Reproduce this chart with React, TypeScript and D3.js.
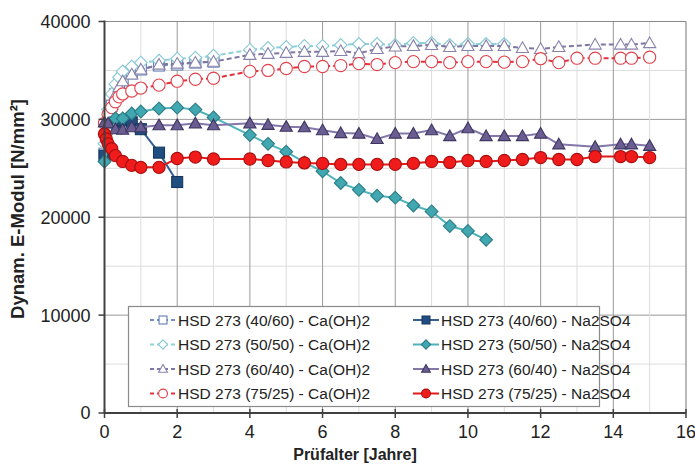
import React from "react";
import * as d3 from "d3";

// ---- data ----
const x4060Ca = [0, 0.1, 0.2, 0.3, 0.4, 0.5, 0.75, 1, 1.5, 2, 2.5, 3];
const y4060Ca = [26500, 29800, 31400, 32600, 33400, 34000, 34700, 35100, 35500, 35600, 35800, 35900];

const x5050Ca = [0, 0.1, 0.2, 0.3, 0.4, 0.5, 0.75, 1, 1.5, 2, 2.5, 3, 4, 4.5, 5, 5.5, 6, 6.5, 7, 7.5, 8, 8.5, 9, 9.5, 10, 10.5, 11];
const y5050Ca = [27500, 31000, 32600, 33600, 34300, 34900, 35400, 35800, 36000, 36200, 36300, 36500, 37100, 37300, 37400, 37500, 37500, 37600, 37700, 37700, 37600, 37800, 37800, 37600, 37700, 37700, 37700];

const x6040Ca = [0, 0.1, 0.2, 0.3, 0.4, 0.5, 0.75, 1, 1.5, 2, 2.5, 3, 4, 4.5, 5, 5.5, 6, 6.5, 7, 7.5, 8, 8.5, 9, 9.5, 10, 10.5, 11, 11.5, 12, 12.5, 13.5, 14.2, 14.5, 15];
const y6040Ca = [29000, 30300, 31500, 32500, 33300, 33900, 34600, 35100, 35600, 35700, 35800, 35900, 36600, 36700, 36800, 36900, 36900, 37000, 36750, 37200, 37450, 37500, 37600, 37400, 37500, 37500, 37500, 37300, 37200, 37400, 37650, 37650, 37650, 37800];

const x7525Ca = [0, 0.1, 0.2, 0.3, 0.4, 0.5, 0.75, 1, 1.5, 2, 2.5, 3, 4, 4.5, 5, 5.5, 6, 6.5, 7, 7.5, 8, 8.5, 9, 9.5, 10, 10.5, 11, 11.5, 12, 12.5, 13, 13.5, 14.2, 14.5, 15];
const y7525Ca = [29600, 30500, 31200, 31800, 32300, 32600, 32900, 33200, 33500, 33900, 34100, 34200, 34900, 35000, 35200, 35400, 35400, 35500, 35700, 35600, 35800, 35900, 35900, 35800, 35900, 35900, 35850, 35900, 36200, 35800, 36250, 36250, 36250, 36250, 36350];

const x4060Na = [0, 0.3, 0.5, 0.75, 1, 1.5, 2];
const y4060Na = [26300, 29700, 29900, 29700, 29000, 26600, 23600];

const x5050Na = [0, 0.3, 0.5, 0.75, 1, 1.5, 2, 2.5, 3, 4, 4.5, 5, 5.5, 6, 6.5, 7, 7.5, 8, 8.5, 9, 9.5, 10, 10.5];
const y5050Na = [25700, 30100, 30100, 30600, 30800, 31100, 31200, 31000, 30200, 28400, 27500, 26700, 25600, 24700, 23500, 22800, 22200, 22000, 21200, 20600, 19100, 18600, 17700];

const x6040Na = [0, 0.1, 0.3, 0.5, 0.75, 1, 1.5, 2, 2.5, 3, 4, 4.5, 5, 5.5, 6, 6.5, 7, 7.5, 8, 8.5, 9, 9.5, 10, 10.5, 11, 11.5, 12, 12.5, 13.5, 14.2, 14.5, 15];
const y6040Na = [29700, 29600, 29000, 28950, 29200, 29200, 29400, 29400, 29600, 29400, 29600, 29450, 29250, 29200, 28900, 28600, 28550, 28000, 28550, 28550, 28900, 28300, 29100, 28300, 28300, 28300, 28550, 27450, 27200, 27450, 27450, 27300];

const x7525Na = [0, 0.05, 0.1, 0.2, 0.3, 0.5, 0.75, 1, 1.5, 2, 2.5, 3, 4, 4.5, 5, 5.5, 6, 6.5, 7, 7.5, 8, 8.5, 9, 9.5, 10, 10.5, 11, 11.5, 12, 12.5, 13, 13.5, 14.2, 14.5, 15];
const y7525Na = [28500, 28000, 27500, 27000, 26300, 25700, 25300, 25100, 25100, 26000, 26150, 25950, 25950, 25800, 25650, 25550, 25500, 25400, 25400, 25400, 25400, 25500, 25700, 25600, 25800, 25700, 25800, 25900, 26100, 25900, 25900, 26200, 26200, 26200, 26100];

const seriesNames = [
  "HSD 273 (40/60) - Ca(OH)2",
  "HSD 273 (50/50) - Ca(OH)2",
  "HSD 273 (60/40) - Ca(OH)2",
  "HSD 273 (75/25) - Ca(OH)2",
  "HSD 273 (40/60) - Na2SO4",
  "HSD 273 (50/50) - Na2SO4",
  "HSD 273 (60/40) - Na2SO4",
  "HSD 273 (75/25) - Na2SO4",
];

const xTicks = [0, 2, 4, 6, 8, 10, 12, 14, 16];
const yTicks = [0, 10000, 20000, 30000, 40000];

type Shape = "square" | "diamond" | "triangle" | "circle";
type Series = {
  name: string; xs: number[]; ys: number[]; shape: Shape;
  line: string; stroke: string; fill: string; dashed: boolean;
};

const series: Series[] = [
  { name: seriesNames[0], xs: x4060Ca, ys: y4060Ca, shape: "square", line: "#7390bf", stroke: "#5f7fb2", fill: "#ffffff", dashed: true },
  { name: seriesNames[1], xs: x5050Ca, ys: y5050Ca, shape: "diamond", line: "#8fd0dc", stroke: "#86c8d4", fill: "#ffffff", dashed: true },
  { name: seriesNames[2], xs: x6040Ca, ys: y6040Ca, shape: "triangle", line: "#7f76a3", stroke: "#8a82aa", fill: "#ffffff", dashed: true },
  { name: seriesNames[3], xs: x7525Ca, ys: y7525Ca, shape: "circle", line: "#e2323f", stroke: "#e2404a", fill: "#ffffff", dashed: true },
  { name: seriesNames[4], xs: x4060Na, ys: y4060Na, shape: "square", line: "#35608f", stroke: "#17375e", fill: "#1f4e80", dashed: false },
  { name: seriesNames[5], xs: x5050Na, ys: y5050Na, shape: "diamond", line: "#4db3bb", stroke: "#2b7c85", fill: "#41a8b2", dashed: false },
  { name: seriesNames[6], xs: x6040Na, ys: y6040Na, shape: "triangle", line: "#8378aa", stroke: "#3f3660", fill: "#6a5d91", dashed: false },
  { name: seriesNames[7], xs: x7525Na, ys: y7525Na, shape: "circle", line: "#e01818", stroke: "#a80c0c", fill: "#f01c1c", dashed: false },
];

const W = 695, H = 466;
const L = 104.5, R = 686, T = 21.5, B = 413;
const FONT = "'Liberation Sans', Arial, sans-serif";

function Marker({ shape, cx, cy, s, fill, stroke }: { shape: Shape; cx: number; cy: number; s: number; fill: string; stroke: string }) {
  const sw = 1.1;
  if (shape === "circle") return <circle cx={cx} cy={cy} r={s} fill={fill} stroke={stroke} strokeWidth={sw} />;
  if (shape === "square") return <rect x={cx - s * 0.9} y={cy - s * 0.9} width={s * 1.8} height={s * 1.8} fill={fill} stroke={stroke} strokeWidth={sw} />;
  if (shape === "diamond") {
    const r = s * 1.05;
    return <path d={`M${cx},${cy - r}L${cx + r},${cy}L${cx},${cy + r}L${cx - r},${cy}Z`} fill={fill} stroke={stroke} strokeWidth={sw} />;
  }
  const h = s;
  return <path d={`M${cx},${cy - h}L${cx + h},${cy + h * 0.75}L${cx - h},${cy + h * 0.75}Z`} fill={fill} stroke={stroke} strokeWidth={sw} />;
}

export default function App() {
  const x = d3.scaleLinear().domain([0, 16]).range([L, R]);
  const y = d3.scaleLinear().domain([0, 40000]).range([B, T]);
  const line = d3.line<[number, number]>().x((d) => x(d[0])).y((d) => y(d[1]));

  const minorX = d3.range(1, 16, 1);
  const minorY = d3.range(5000, 40000, 5000);

  const legendX = [163, 426];
  const legendY0 = 320, legendDY = 24.5;

  return (
    <svg width={W} height={H} style={{ position: "absolute", left: 0, top: 0, background: "#fff" }} fontFamily={FONT}>
      <rect x={0} y={0} width={W} height={H} fill="#fff" />
      {/* grid */}
      {minorY.map((v) => (
        <line key={"gy" + v} x1={L} x2={R} y1={y(v)} y2={y(v)} stroke={v % 10000 === 0 ? "#9a9a9a" : "#dcdcdc"} strokeWidth={1} />
      ))}
      {minorX.map((v) => (
        <line key={"gx" + v} x1={x(v)} x2={x(v)} y1={T} y2={B} stroke={v % 2 === 0 ? "#9a9a9a" : "#dcdcdc"} strokeWidth={1} />
      ))}
      <line x1={L} x2={R} y1={T} y2={T} stroke="#8a8a8a" strokeWidth={1.2} />
      <line x1={R} x2={R} y1={T} y2={B} stroke="#8a8a8a" strokeWidth={1.2} />

      {/* series */}
      {series.map((s, i) => {
        const pts = s.xs.map((v, j) => [v, s.ys[j]] as [number, number]);
        return (
          <g key={"s" + i}>
            <path d={line(pts) || ""} fill="none" stroke={s.line} strokeWidth={2} strokeDasharray={s.dashed ? "5,3" : undefined} />
            {pts.map((p, j) => (
              <Marker key={j} shape={s.shape} cx={x(p[0])} cy={y(p[1])} s={6.1} fill={s.fill} stroke={s.stroke} />
            ))}
          </g>
        );
      })}

      {/* axes */}
      <line x1={L} x2={L} y1={T - 1} y2={B} stroke="#404040" strokeWidth={2} />
      <line x1={L} x2={R} y1={B} y2={B} stroke="#404040" strokeWidth={2} />
      {yTicks.map((v) => (
        <g key={"yt" + v}>
          <line x1={L - 6} x2={L} y1={y(v)} y2={y(v)} stroke="#404040" strokeWidth={1.5} />
          <text x={L - 14} y={y(v)} dy="0.36em" textAnchor="end" fontSize={18} fill="#222">{v}</text>
        </g>
      ))}
      {xTicks.map((v) => (
        <g key={"xt" + v}>
          <line x1={x(v)} x2={x(v)} y1={B - 4} y2={B + 5} stroke="#404040" strokeWidth={1.5} />
          <text x={x(v)} y={B + 25} textAnchor="middle" fontSize={18} fill="#222">{v}</text>
        </g>
      ))}
      <text x={355} y={460} textAnchor="middle" fontSize={16} fontWeight="bold" fill="#222">Prüfalter [Jahre]</text>
      <text transform={`translate(24,209) rotate(-90)`} textAnchor="middle" fontSize={18.5} fontWeight="bold" fill="#222">
        Dynam. E-Modul [N/mm²]
      </text>

      {/* legend */}
      <rect x={128.5} y={306.5} width={471} height={100} fill="#fff" stroke="#8a8a8a" strokeWidth={1.2} />
      {series.map((s, i) => {
        const col = i < 4 ? 0 : 1;
        const row = i % 4;
        const cx = legendX[col];
        const cy = legendY0 + row * legendDY;
        return (
          <g key={"lg" + i}>
            <line x1={cx - 13} x2={cx + 13} y1={cy} y2={cy} stroke={s.line} strokeWidth={2} strokeDasharray={s.dashed ? "4,3" : undefined} />
            <Marker shape={s.shape} cx={cx} cy={cy} s={4.4} fill={s.fill} stroke={s.stroke} />
            <text x={cx + 15} y={cy} dy="0.36em" fontSize={15.5} fill="#222">{s.name}</text>
          </g>
        );
      })}
    </svg>
  );
}
